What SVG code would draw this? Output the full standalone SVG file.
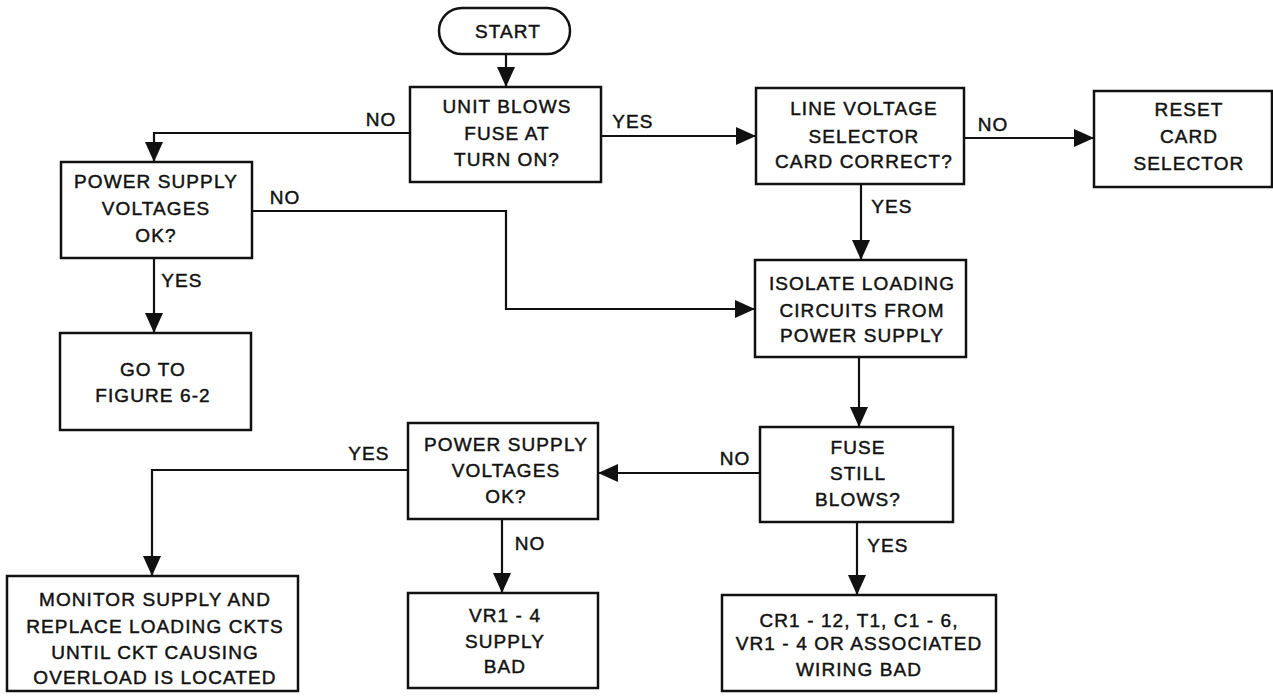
<svg xmlns="http://www.w3.org/2000/svg" width="1273" height="696" viewBox="0 0 1273 696">
<style>
.box{fill:#fff;stroke:#111;stroke-width:2.5}
.t{font-family:"Liberation Sans",Arial,sans-serif;font-size:19px;letter-spacing:1.1px;fill:#111;stroke:#111;stroke-width:0.45;text-anchor:middle}
.c{fill:none;stroke:#111;stroke-width:2.2}
</style>
<defs>
<marker id="ah" viewBox="0 0 20 18" refX="20" refY="9" markerWidth="20" markerHeight="18" markerUnits="userSpaceOnUse" orient="auto">
<path d="M0,0 L20,9 L0,18 z" fill="#111"/>
</marker>
</defs>
<rect width="1273" height="696" fill="#fff"/>
<g id="connectors">
<path class="c" d="M506,54 V87" marker-end="url(#ah)"/>
<path class="c" d="M410,133 H154 V162" marker-end="url(#ah)"/>
<path class="c" d="M601,136 H756" marker-end="url(#ah)"/>
<path class="c" d="M964,138 H1094" marker-end="url(#ah)"/>
<path class="c" d="M861,184 V260" marker-end="url(#ah)"/>
<path class="c" d="M252,211 H506 V309 H755" marker-end="url(#ah)"/>
<path class="c" d="M154,258 V333" marker-end="url(#ah)"/>
<path class="c" d="M859,357 V427" marker-end="url(#ah)"/>
<path class="c" d="M760,473 H598" marker-end="url(#ah)"/>
<path class="c" d="M857,522 V595" marker-end="url(#ah)"/>
<path class="c" d="M408,470 H152 V576" marker-end="url(#ah)"/>
<path class="c" d="M502,519 V593" marker-end="url(#ah)"/>
<text class="t" x="381" y="126">NO</text>
<text class="t" x="633" y="128">YES</text>
<text class="t" x="993" y="131">NO</text>
<text class="t" x="892" y="213">YES</text>
<text class="t" x="285" y="204">NO</text>
<text class="t" x="182" y="287">YES</text>
<text class="t" x="735" y="465">NO</text>
<text class="t" x="888" y="552">YES</text>
<text class="t" x="369" y="460">YES</text>
<text class="t" x="530" y="550">NO</text>
</g>
<g id="start">
<rect class="box" x="439" y="8" width="131" height="46" rx="23"/>
<text class="t" x="508" y="38">START</text>
</g>
<g id="unit">
<rect class="box" x="410" y="87" width="191" height="95"/>
<text class="t" x="507" y="113">UNIT BLOWS</text>
<text class="t" x="507" y="140">FUSE AT</text>
<text class="t" x="507" y="166">TURN ON?</text>
</g>
<g id="line">
<rect class="box" x="756" y="88" width="208" height="96"/>
<text class="t" x="864" y="115">LINE VOLTAGE</text>
<text class="t" x="864" y="143">SELECTOR</text>
<text class="t" x="864" y="168">CARD CORRECT?</text>
</g>
<g id="reset">
<rect class="box" x="1094" y="91" width="178" height="96"/>
<text class="t" x="1189" y="116">RESET</text>
<text class="t" x="1189" y="143">CARD</text>
<text class="t" x="1189" y="170">SELECTOR</text>
</g>
<g id="ps1">
<rect class="box" x="61" y="162" width="191" height="96"/>
<text class="t" x="156" y="188">POWER SUPPLY</text>
<text class="t" x="156" y="215">VOLTAGES</text>
<text class="t" x="156" y="242">OK?</text>
</g>
<g id="isolate">
<rect class="box" x="755" y="260" width="211" height="97"/>
<text class="t" x="862" y="290">ISOLATE LOADING</text>
<text class="t" x="862" y="317">CIRCUITS FROM</text>
<text class="t" x="862" y="342">POWER SUPPLY</text>
</g>
<g id="goto">
<rect class="box" x="60" y="333" width="191" height="97"/>
<text class="t" x="153" y="376">GO TO</text>
<text class="t" x="153" y="402">FIGURE 6-2</text>
</g>
<g id="fuse">
<rect class="box" x="760" y="427" width="193" height="95"/>
<text class="t" x="858" y="454">FUSE</text>
<text class="t" x="858" y="480">STILL</text>
<text class="t" x="858" y="506">BLOWS?</text>
</g>
<g id="ps2">
<rect class="box" x="408" y="423" width="190" height="96"/>
<text class="t" x="506" y="451">POWER SUPPLY</text>
<text class="t" x="506" y="477">VOLTAGES</text>
<text class="t" x="506" y="503">OK?</text>
</g>
<g id="monitor">
<rect class="box" x="7" y="576" width="291" height="115"/>
<text class="t" x="155" y="606">MONITOR SUPPLY AND</text>
<text class="t" x="155" y="633">REPLACE LOADING CKTS</text>
<text class="t" x="155" y="659">UNTIL CKT CAUSING</text>
<text class="t" x="155" y="684">OVERLOAD IS LOCATED</text>
</g>
<g id="vr">
<rect class="box" x="408" y="593" width="190" height="95"/>
<text class="t" x="505" y="622">VR1 - 4</text>
<text class="t" x="505" y="648">SUPPLY</text>
<text class="t" x="505" y="673">BAD</text>
</g>
<g id="cr">
<rect class="box" x="722" y="595" width="274" height="96"/>
<text class="t" x="859" y="627">CR1 - 12, T1, C1 - 6,</text>
<text class="t" x="859" y="650">VR1 - 4 OR ASSOCIATED</text>
<text class="t" x="859" y="676">WIRING BAD</text>
</g>
</svg>
